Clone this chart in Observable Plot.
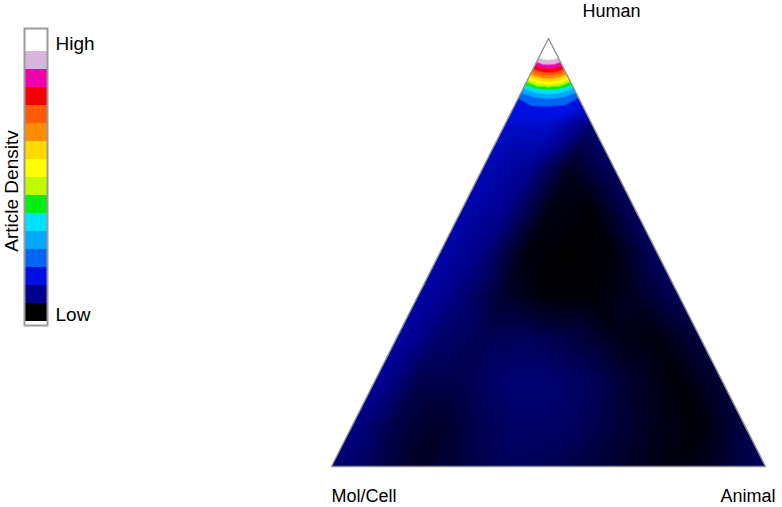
<!DOCTYPE html>
<html>
<head>
<meta charset="utf-8">
<script src="https://cdn.jsdelivr.net/npm/d3@7"></script>
<script src="https://cdn.jsdelivr.net/npm/@observablehq/plot@0.6"></script>
<style>
  html, body { margin: 0; padding: 0; background: #fff; }
  #wrap { position: relative; width: 782px; height: 507px; overflow: hidden; font-family: "Liberation Sans", Arial, sans-serif; }
  #wrap svg { position: absolute; left: 0; top: 0; }
</style>
</head>
<body>
<div id="wrap"></div>
<script>
// ---------- DATA ----------
// Vertex labels of the ternary diagram (left, top, right)
const vertexLabels = ["Mol/Cell", "Human", "Animal"];

// Legend levels (0 = Low ... 15 = High) and end labels
const legendLevels = d3.range(16);
const legendTitle = "Article Densitv";
const legendHigh = "High";
const legendLow = "Low";

// Density at the Human apex
const apexPeak = 15.5;
// Rows just below the Human apex: distance t from the apex (1 - human share)
const apexT = [0.02, 0.04, 0.06, 0.08, 0.10, 0.12, 0.14, 0.16];
// Density along each apex row, from the Mol/Cell edge to the Animal edge (5 samples per row)
const apexDensity = [
  [15.5, 15.5, 15.5, 15.5, 15.5],
  [15.0, 15.3, 15.4, 15.3, 15.0],
  [13.0, 13.5, 13.7, 13.5, 13.0],
  [10.2, 11.2, 11.5, 11.2, 10.2],
  [6.7, 8.2, 8.7, 8.2, 6.7],
  [4.1, 5.1, 5.5, 5.1, 4.1],
  [2.5, 3.3, 3.6, 3.3, 2.4],
  [2.2, 2.4, 2.45, 2.3, 1.8]
];
// Coarse grid: human share per row; animal share steps by 0.1 along each row
const gridH = [0.0, 0.1, 0.2, 0.3, 0.4, 0.5, 0.6, 0.7, 0.8];
const gridDensity = [
  [0.8, 0.6, 0.25, 0.45, 0.65, 0.6, 0.45, 0.25, 0.1, 0.3, 0.7],
  [0.95, 0.5, 0.3, 0.6, 0.75, 0.7, 0.45, 0.2, 0.05, 0.5],
  [1.15, 0.55, 0.55, 0.8, 0.8, 0.65, 0.3, 0.05, 0.4],
  [1.25, 0.75, 0.6, 0.65, 0.5, 0.2, 0.1, 0.45],
  [1.3, 0.85, 0.3, 0.05, 0.05, 0.25, 0.65],
  [1.35, 0.9, 0.1, 0.0, 0.1, 0.7],
  [1.4, 1.0, 0.15, 0.05, 0.7],
  [1.5, 1.1, 0.25, 0.7],
  [1.75, 1.7, 0.8]
];

// ---------- STYLE ----------
const palette = ["#000000","#00008c","#0010e0","#0064f5","#00a8ff","#00e0ff","#00ee10","#c0fa00",
                 "#ffff00","#ffd800","#ff8c00","#ff5a00","#f50000","#ee00aa","#dab4dc","#ffffff"];
const fontFamily = "'Liberation Sans', Arial, sans-serif";

// ---------- BUILD ----------
const samples = [];
samples.push({human: 1, animal: 0, density: apexPeak});
apexT.forEach((t, i) => apexDensity[i].forEach((v, j) => samples.push({human: 1 - t, animal: t * j / 4, density: v})));
gridH.forEach((h, i) => gridDensity[i].forEach((v, j) => samples.push({human: h, animal: j * 0.1, density: v})));

// ternary -> cartesian (Mol/Cell bottom-left, Animal bottom-right, Human top)
const tx = d => d.animal + d.human / 2;
const ty = d => d.human;

const vertices = [
  {label: vertexLabels[0], human: 0, animal: 0},
  {label: vertexLabels[1], human: 1, animal: 0},
  {label: vertexLabels[2], human: 0, animal: 1}
];

// piecewise colour scale: smooth in the dark end, banded above
const cDomain = [0, 1, 2], cRange = [palette[0], palette[1], palette[2]];
for (let k = 2; k <= 14; ++k) {
  cDomain.push(k + 0.45); cRange.push(palette[k]);
  cDomain.push(k + 0.55); cRange.push(palette[k + 1]);
}
cDomain.push(15.5); cRange.push(palette[15]);

const chart = Plot.plot({
  width: 782, height: 507,
  marginLeft: 331, marginRight: 17, marginTop: 38, marginBottom: 41,
  x: {domain: [0, 1], axis: null},
  y: {domain: [0, 1], axis: null},
  color: {type: "linear", domain: cDomain, range: cRange, clamp: true, interpolate: "rgb"},
  style: {fontFamily, fontSize: "18px", background: "transparent"},
  marks: [
    Plot.raster(samples, {x: tx, y: ty, fill: "density", interpolate: "barycentric",
      x1: 0, x2: 1, y1: 0, y2: 1, pixelSize: 1}),
    Plot.line([...vertices, vertices[0]], {x: tx, y: ty, stroke: "#8c8c8c", strokeWidth: 1.3}),
    Plot.text([vertices[0]], {x: tx, y: ty, text: "label", textAnchor: "start", dy: 30, fill: "#000", fontSize: 18}),
    Plot.text([vertices[1]], {x: tx, y: ty, text: "label", textAnchor: "middle", dx: 63, dy: -27, fill: "#000", fontSize: 18}),
    Plot.text([vertices[2]], {x: tx, y: ty, text: "label", textAnchor: "end", dx: 10, dy: 30, fill: "#000", fontSize: 18})
  ]
});

// clip the raster to the triangle (positions from the plot's own scales)
(function clipRaster() {
  const sx = chart.scale("x"), sy = chart.scale("y");
  const pts = vertices.map(v => [sx.apply(tx(v)), sy.apply(ty(v))]);
  const ns = "http://www.w3.org/2000/svg";
  const defs = document.createElementNS(ns, "defs");
  const cp = document.createElementNS(ns, "clipPath");
  cp.setAttribute("id", "triclip");
  const poly = document.createElementNS(ns, "polygon");
  poly.setAttribute("points", pts.map(p => p.join(",")).join(" "));
  cp.appendChild(poly); defs.appendChild(cp);
  chart.insertBefore(defs, chart.firstChild);
  const g = chart.querySelector('g[aria-label="raster"]');
  if (g) g.setAttribute("clip-path", "url(#triclip)");
})();

const legend = Plot.plot({
  width: 120, height: 340,
  marginLeft: 24, marginRight: 73, marginTop: 28, marginBottom: 15,
  x: {axis: null},
  y: {type: "band", domain: [...legendLevels].reverse(), padding: 0, axis: null},
  color: {type: "identity"},
  style: {fontFamily, fontSize: "18px", background: "transparent", overflow: "visible"},
  marks: [
    Plot.cell(legendLevels, {y: d => d, fill: d => palette[d]}),
    Plot.frame({stroke: "#9a9a9a", strokeWidth: 2}),
    Plot.text([{level: legendLevels[legendLevels.length - 1], label: legendHigh}], {y: "level", text: "label", frameAnchor: "right", textAnchor: "start", dx: 8, dy: 1, fill: "#000", fontSize: 19}),
    Plot.text([{level: legendLevels[0], label: legendLow}], {y: "level", text: "label", frameAnchor: "right", textAnchor: "start", dx: 8, dy: 2, fill: "#000", fontSize: 19}),
    Plot.text([legendTitle], {frameAnchor: "left", textAnchor: "middle", rotate: -90, dx: -13, dy: 14, fill: "#000", fontSize: 19})
  ]
});

const wrap = document.getElementById("wrap");
wrap.appendChild(chart);
wrap.appendChild(legend);
</script>
</body>
</html>
